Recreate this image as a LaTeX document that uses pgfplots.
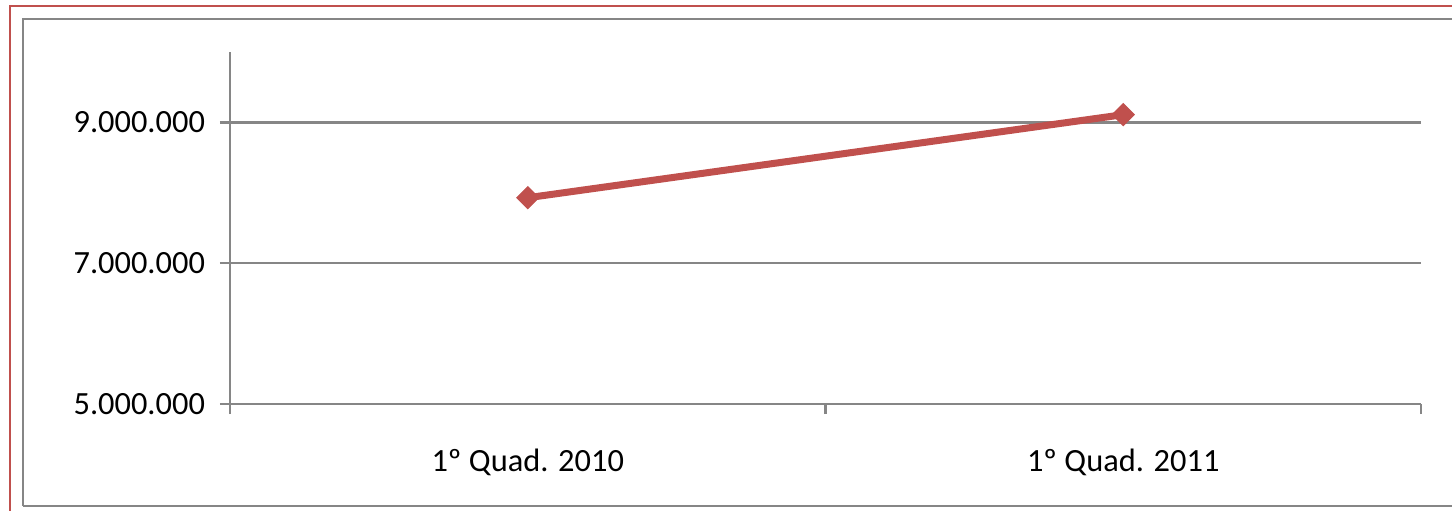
\documentclass[border=0pt]{standalone}
\usepackage{pgfplots}
\pgfplotsset{compat=1.18}
\usepackage{fontspec}
\setmainfont{Carlito}
\definecolor{serred}{RGB}{192,80,77}
\definecolor{axgray}{RGB}{134,134,134}
\begin{document}
\begin{tikzpicture}[x=1pt,y=1pt]
\useasboundingbox (0,0) rectangle (726,255);
\begin{scope}
\clip (0,0) rectangle (726,255);
\draw[serred, line width=1pt] (5,-10) -- (5,252) -- (740,252);
\draw[axgray, line width=1.1pt] (11.5,2) -- (11.5,245.5) -- (740,245.5);
\draw[axgray, line width=1.1pt] (11.5,2) -- (740,2);
\end{scope}
\begin{axis}[
  at={(115pt,53pt)}, anchor=south west,
  scale only axis, width=595.5pt, height=176pt,
  xmin=0, xmax=2, ymin=5000000, ymax=10000000,
  axis lines=left, axis line style={-, axgray, line width=1.1pt},
  xtick={0,1,2}, xticklabels={},
  extra x ticks={0.5,1.5},
  extra x tick labels={1º Quad. 2010,1º Quad. 2011},
  extra x tick style={major tick length=0pt, xticklabel style={yshift=-19pt}},
  ytick={5000000,7000000,9000000},
  yticklabels={5.000.000,7.000.000,9.000.000},
  scaled y ticks=false,
  tick align=outside, major tick length=5pt,
  tick style={axgray, line width=1.1pt},
  ymajorgrids, grid style={axgray, line width=1.1pt},
  ticklabel style={font=\fontsize{16.2}{19}\selectfont, text=black},
  yticklabel style={xshift=-4pt},
  clip=false,
]
\addplot[serred, line width=3.5pt, mark=square*, mark options={rotate=45, solid, fill=serred, draw=serred, line width=0.5pt}, mark size=3.9pt]
  coordinates {(0.5,7930000) (1.5,9110000)};
\end{axis}
\end{tikzpicture}
\end{document}
